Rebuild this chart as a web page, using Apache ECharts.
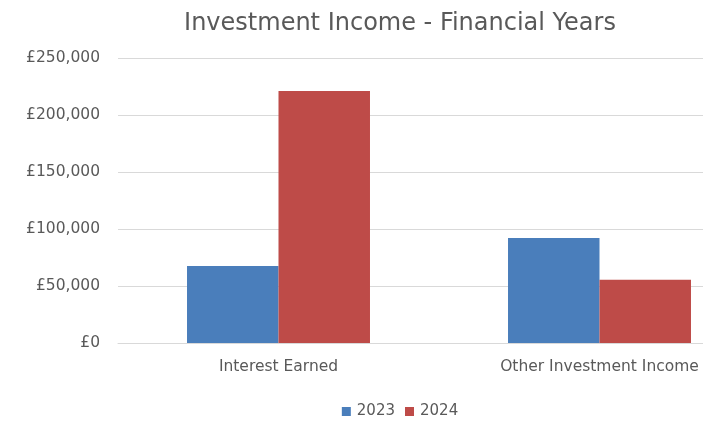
<!DOCTYPE html>
<html><head><meta charset="utf-8">
<script src="https://cdn.jsdelivr.net/npm/echarts@6/dist/echarts.min.js"></script>
<style>html,body{margin:0;padding:0;background:#fff;overflow:hidden;width:703px;height:421px}#c{width:800px;height:421px}</style>
</head><body><div id="c"></div>
<script>
const categories = ["Interest Earned", "Other Investment Income"];
const seriesNames = ["2023", "2024"];
const values2023 = [67500, 92000];
const values2024 = [221000, 55500];
const yMin = 0, yMax = 250000, yInterval = 50000;

const chart = echarts.init(document.getElementById('c'), null, {renderer: 'canvas'});
const font = '"DejaVu Sans", sans-serif';
chart.setOption({
  backgroundColor: '#ffffff',
  animation: false,
  title: {
    text: 'Investment Income - Financial Years',
    left: 'center', top: 7,
    textStyle: {fontFamily: font, fontSize: 24, fontWeight: 'normal', color: '#595959'}
  },
  legend: {
    data: seriesNames, left: 'center', top: 399,
    itemWidth: 9, itemHeight: 9, itemGap: 10, icon: 'rect',
    textStyle: {fontFamily: font, fontSize: 15, color: '#595959', padding: [0, 0, 0, 1]}
  },
  grid: {left: 118, top: 58, right: 40, height: 285, containLabel: false},
  xAxis: {
    type: 'category', data: categories,
    axisLine: {lineStyle: {color: '#d9d9d9'}},
    axisTick: {show: false},
    axisLabel: {fontFamily: font, fontSize: 15.5, color: '#595959', margin: 16}
  },
  yAxis: {
    type: 'value', min: yMin, max: yMax, interval: yInterval,
    axisLine: {show: false}, axisTick: {show: false},
    splitLine: {lineStyle: {color: '#d9d9d9'}},
    axisLabel: {fontFamily: font, fontSize: 15.5, color: '#595959', margin: 18,
      formatter: v => '£' + v.toLocaleString('en-GB')}
  },
  series: [
    {name: seriesNames[0], type: 'bar', data: values2023, barGap: '0%', barCategoryGap: '43%',
     itemStyle: {color: '#4a7ebb'}},
    {name: seriesNames[1], type: 'bar', data: values2024, barGap: '0%', barCategoryGap: '43%',
     itemStyle: {color: '#be4b48'}}
  ]
});
</script></body></html>
